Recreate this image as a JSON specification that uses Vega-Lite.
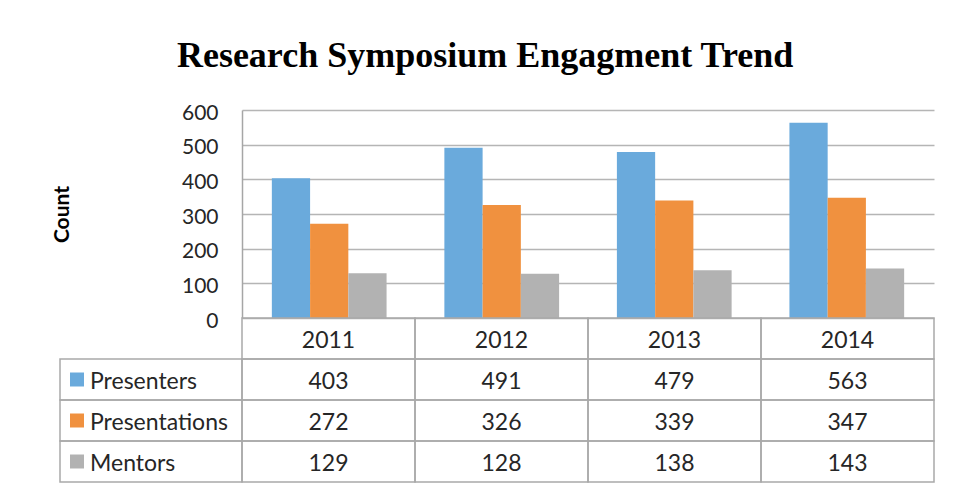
{
  "$schema": "https://vega.github.io/schema/vega-lite/v6.json",
  "padding": {"left": 51, "top": 38, "right": 10, "bottom": 5},
  "background": "white",
  "title": {
    "text": "Research Symposium Engagment Trend",
    "font": "Liberation Serif",
    "fontSize": 36,
    "fontWeight": "bold",
    "color": "#000000",
    "anchor": "middle",
    "dx": -8,
    "offset": 27
  },
  "datasets": {
    "counts": [
      {"year": "2011", "series": "Presenters", "count": 403},
      {"year": "2011", "series": "Presentations", "count": 272},
      {"year": "2011", "series": "Mentors", "count": 129},
      {"year": "2012", "series": "Presenters", "count": 491},
      {"year": "2012", "series": "Presentations", "count": 326},
      {"year": "2012", "series": "Mentors", "count": 128},
      {"year": "2013", "series": "Presenters", "count": 479},
      {"year": "2013", "series": "Presentations", "count": 339},
      {"year": "2013", "series": "Mentors", "count": 138},
      {"year": "2014", "series": "Presenters", "count": 563},
      {"year": "2014", "series": "Presentations", "count": 347},
      {"year": "2014", "series": "Mentors", "count": 143}
    ]
  },
  "bounds": "flush",
  "spacing": 0,
  "columns": 2,
  "resolve": {"scale": {"x": "independent", "y": "independent", "xOffset": "independent", "color": "shared"}},
  "concat": [
    {
      "width": 182,
      "height": 208,
      "data": {"values": []},
      "mark": {"type": "text"},
      "encoding": {}
    },
    {
      "width": 692,
      "height": 208,
      "data": {"name": "counts"},
      "mark": {"type": "bar"},
      "encoding": {
        "x": {"field": "year", "type": "nominal", "scale": {"paddingInner": 0.335, "paddingOuter": 0.173}, "axis": null},
        "xOffset": {"field": "series", "type": "nominal", "sort": ["Presenters", "Presentations", "Mentors"], "scale": {"paddingInner": 0, "paddingOuter": 0}},
        "y": {
          "field": "count",
          "type": "quantitative",
          "scale": {"domain": [0, 600]},
          "axis": {
            "values": [0, 100, 200, 300, 400, 500, 600],
            "title": "Count",
            "titleFont": "Lato",
            "titleFontSize": 21,
            "titleFontWeight": "bold",
            "titleColor": "#000000",
            "titlePadding": 109,
            "labelFont": "Lato",
            "labelFontSize": 21,
            "labelColor": "#262626",
            "labelPadding": 24,
            "labelOffset": 3,
            "ticks": false,
            "domainColor": "#a6a6a6",
            "domainWidth": 1.5,
            "gridColor": "#b5b5b5",
            "gridWidth": 1.3
          }
        },
        "color": {
          "field": "series",
          "type": "nominal",
          "scale": {"domain": ["Presenters", "Presentations", "Mentors"], "range": ["#6aaadc", "#f0913f", "#b2b2b2"]},
          "legend": null
        }
      }
    },
    {
      "width": 182,
      "height": 164,
      "data": {"name": "counts"},
      "transform": [{"aggregate": [{"op": "max", "field": "count", "as": "m"}], "groupby": ["series"]}],
      "encoding": {
        "y": {"field": "series", "type": "nominal", "scale": {"domain": ["header", "Presenters", "Presentations", "Mentors"], "paddingInner": 0, "paddingOuter": 0}, "axis": null}
      },
      "layer": [
        {"mark": {"type": "rect", "fill": null, "stroke": "#a9a9a9", "strokeWidth": 1.5}},
        {
          "mark": {"type": "square", "size": 196, "opacity": 1, "filled": true, "xOffset": -74},
          "encoding": {"color": {"field": "series", "type": "nominal", "legend": null}}
        },
        {
          "mark": {"type": "text", "align": "left", "baseline": "middle", "dx": -61, "dy": 2, "font": "Lato", "fontSize": 23, "color": "#262626"},
          "encoding": {"text": {"field": "series"}}
        }
      ]
    },
    {
      "width": 692,
      "height": 164,
      "layer": [
        {
          "data": {"name": "counts"},
          "mark": {"type": "rect", "fill": null, "stroke": "#a9a9a9", "strokeWidth": 1.5},
          "encoding": {
            "x": {"field": "year", "type": "nominal", "scale": {"paddingInner": 0, "paddingOuter": 0}, "axis": null},
            "y": {"field": "series", "type": "nominal", "scale": {"domain": ["header", "Presenters", "Presentations", "Mentors"], "paddingInner": 0, "paddingOuter": 0}, "axis": null}
          }
        },
        {
          "data": {"name": "counts"},
          "transform": [{"aggregate": [{"op": "max", "field": "count", "as": "m"}], "groupby": ["year"]}],
          "mark": {"type": "rect", "fill": null, "stroke": "#a9a9a9", "strokeWidth": 1.5},
          "encoding": {
            "x": {"field": "year", "type": "nominal"},
            "y": {"datum": "header", "type": "nominal"}
          }
        },
        {
          "data": {"name": "counts"},
          "mark": {"type": "text", "baseline": "middle", "dy": 2, "font": "Lato", "fontSize": 23, "color": "#262626"},
          "encoding": {
            "x": {"field": "year", "type": "nominal"},
            "y": {"field": "series", "type": "nominal"},
            "text": {"field": "count", "type": "quantitative"}
          }
        },
        {
          "data": {"name": "counts"},
          "transform": [{"aggregate": [{"op": "max", "field": "count", "as": "m"}], "groupby": ["year"]}],
          "mark": {"type": "text", "baseline": "middle", "dy": 2, "font": "Lato", "fontSize": 23, "color": "#262626"},
          "encoding": {
            "x": {"field": "year", "type": "nominal"},
            "y": {"datum": "header", "type": "nominal"},
            "text": {"field": "year", "type": "nominal"}
          }
        }
      ]
    }
  ],
  "config": {
    "view": {"stroke": null}
  }
}
